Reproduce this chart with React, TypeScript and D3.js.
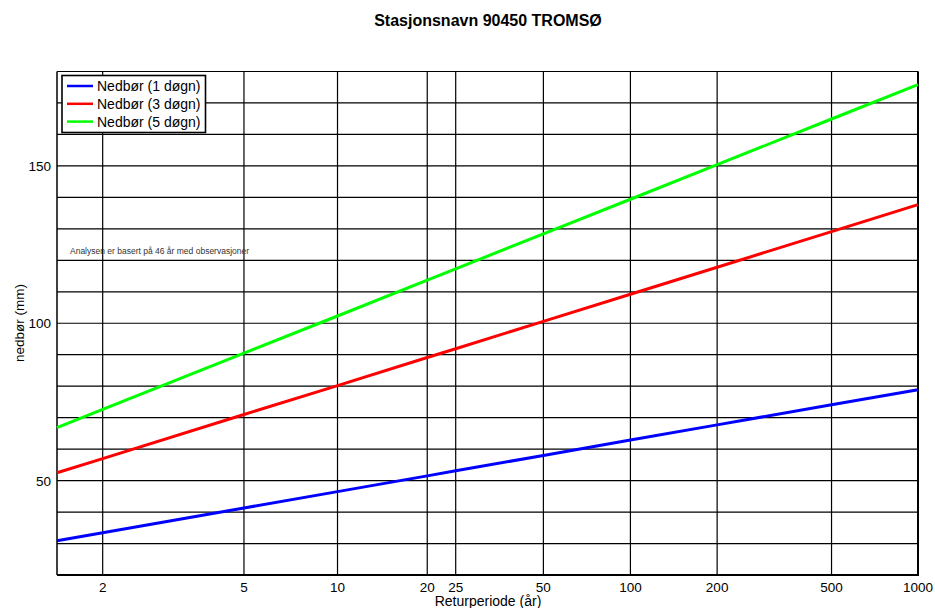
import React from "react";
import * as d3 from "d3";

const returnPeriods = [1.582, 2, 5, 10, 20, 25, 50, 100, 200, 500, 1000];
const series1 = [30.9, 33.4, 41.3, 46.5, 51.5, 53.1, 58.0, 62.9, 67.7, 74.1, 78.9];
const series3 = [52.5, 57.0, 71.0, 80.2, 89.1, 91.9, 100.6, 109.2, 117.8, 129.1, 137.7];
const series5 = [66.8, 72.6, 90.5, 102.3, 113.7, 117.3, 128.4, 139.4, 150.4, 164.9, 175.8];
const seriesNames = ["Nedbør (1 døgn)", "Nedbør (3 døgn)", "Nedbør (5 døgn)"];
const seriesColors = ["#0000ff", "#ff0000", "#00ff00"];
const xTicks = [2, 5, 10, 20, 25, 50, 100, 200, 500, 1000];
const yGrid = [30, 40, 50, 60, 70, 80, 90, 100, 110, 120, 130, 140, 150, 160, 170];
const yLabels = [50, 100, 150];

const W = 935;
const H = 608;
const FONT = "'Liberation Sans', Arial, sans-serif";

const gumbel = (T: number) => -Math.log(-Math.log(1 - 1 / T));

export default function App() {
  const left = 57;
  const right = 918;
  const top = 71.5;
  const bottom = 575;
  const x = d3.scaleLinear().domain([0, gumbel(1000)]).range([left, right]);
  const y = d3.scaleLinear().domain([20, 180]).range([bottom, top]);
  const allSeries = [series1, series3, series5];
  const line = d3
    .line<[number, number]>()
    .x((d) => x(gumbel(d[0])))
    .y((d) => y(d[1]));

  return (
    <svg
      width={W}
      height={H}
      style={{ position: "absolute", left: 0, top: 0, background: "#fff" }}
      fontFamily={FONT}
    >
      <rect x={0} y={0} width={W} height={H} fill="#fff" />
      <text x={488} y={26} textAnchor="middle" fontSize={16} fontWeight="bold" fill="#000">
        Stasjonsnavn 90450 TROMSØ
      </text>
      {/* grid */}
      {yGrid.map((v) => (
        <line key={"h" + v} x1={left} x2={right} y1={y(v)} y2={y(v)} stroke="#000" strokeWidth={1.2} />
      ))}
      {xTicks.map((t) => (
        <line key={"v" + t} x1={x(gumbel(t))} x2={x(gumbel(t))} y1={top} y2={bottom} stroke="#000" strokeWidth={1.2} />
      ))}
      {/* frame */}
      <line x1={left} x2={right} y1={top} y2={top} stroke="#000" strokeWidth={1.2} />
      <line x1={left} x2={left} y1={top} y2={bottom} stroke="#000" strokeWidth={1.5} />
      <line x1={right} x2={right} y1={top} y2={bottom + 1} stroke="#000" strokeWidth={2} />
      <line x1={left} x2={right + 1} y1={bottom} y2={bottom} stroke="#000" strokeWidth={2} />
      {/* annotation */}
      <text x={70} y={254} fontSize={8.5} fill="#333">
        Analysen er basert på 46 år med observasjoner
      </text>
      {/* series */}
      {allSeries.map((s, i) => (
        <path
          key={"s" + i}
          d={line(returnPeriods.map((t, j) => [t, s[j]] as [number, number])) || ""}
          fill="none"
          stroke={seriesColors[i]}
          strokeWidth={3}
        />
      ))}
      {/* axes labels */}
      {xTicks.map((t) => (
        <text key={"xl" + t} x={x(gumbel(t))} y={592} textAnchor="middle" fontSize={13.5} fill="#000">
          {t}
        </text>
      ))}
      {yLabels.map((v) => (
        <text key={"yl" + v} x={51} y={y(v) + 5} textAnchor="end" fontSize={13.5} fill="#000">
          {v}
        </text>
      ))}
      <text x={488} y={606} textAnchor="middle" fontSize={14} fill="#000">
        Returperiode (år)
      </text>
      <text
        transform={`translate(24,323) rotate(-90)`}
        textAnchor="middle"
        fontSize={13.5}
        fill="#000"
      >
        nedbør (mm)
      </text>
      {/* legend */}
      <rect x={62} y={75.5} width={143.5} height={57} fill="#fff" stroke="#000" strokeWidth={1.6} />
      {seriesNames.map((n, i) => (
        <g key={"lg" + i}>
          <line x1={67} x2={93} y1={86 + i * 17.8} y2={86 + i * 17.8} stroke={seriesColors[i]} strokeWidth={2.5} />
          <text x={97} y={91 + i * 17.8} fontSize={14} fill="#000">
            {n}
          </text>
        </g>
      ))}
    </svg>
  );
}
